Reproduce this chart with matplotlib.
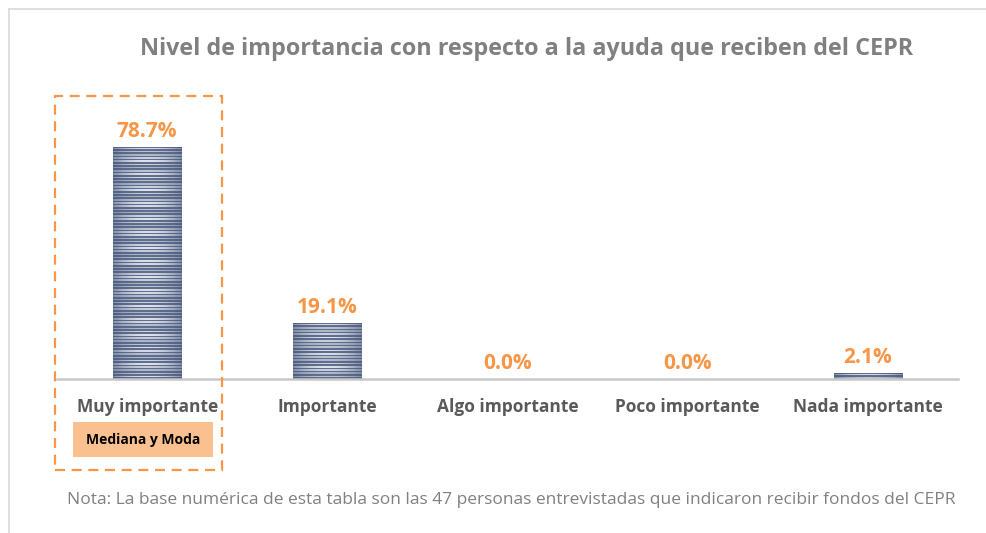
import numpy as np
import matplotlib
matplotlib.use("Agg")
import matplotlib.pyplot as plt
from matplotlib.patches import Rectangle
from matplotlib.lines import Line2D

plt.rcParams["font.family"] = ["Open Sans", "DejaVu Sans"]

categories = ["Muy importante", "Importante", "Algo importante", "Poco importante", "Nada importante"]
percentages = [78.7, 19.1, 0.0, 0.0, 2.1]
title = "Nivel de importancia con respecto a la ayuda que reciben del CEPR"
note = "Nota: La base numérica de esta tabla son las 47 personas entrevistadas que indicaron recibir fondos del CEPR"
badge = "Mediana y Moda"

orange = "#f79646"
gray_text = "#595959"

fig = plt.figure(figsize=(9.87, 5.33), dpi=100)
ax = fig.add_axes([0.0578, 0.2889, 0.9128, 0.5535])

x = np.arange(len(categories))
bars = ax.bar(x, percentages, width=0.38, color="#4b5a7d", zorder=2)

# striped fill, darker at the sides like the original
dark = np.array([0.29, 0.35, 0.49])
light = np.array([0.90, 0.92, 0.95])
for p in bars.patches:
    h = p.get_height()
    if h <= 0:
        continue
    rows = max(2, int(round(h * 2.95 / 1.6)))
    cols = 60
    u = np.linspace(-1, 1, cols)
    center = 1 - u ** 2
    img = np.zeros((rows, cols, 3))
    for r in range(rows):
        if r % 2 == 0:
            mix = 0.05 + 0.1 * center
        else:
            mix = 0.35 + 0.6 * center * (0.75 + 0.25 * np.cos(r * 0.7))
        img[r] = dark + (light - dark) * mix[:, None]
    im = ax.imshow(img, extent=[p.get_x(), p.get_x() + p.get_width(), 0, h],
                   aspect="auto", interpolation="nearest", zorder=3)
    im.set_clip_path(p)

for xi, v in zip(x, percentages):
    ax.annotate(f"{v:.1f}%", (xi, v), xytext=(0, 3.5), textcoords="offset points",
                ha="center", va="bottom", color=orange, fontsize=15, fontweight="bold")

ax.set_xlim(-0.5, len(categories) - 0.5)
ax.set_ylim(0, 100)
ax.set_xticks(x)
ax.set_xticklabels(categories, fontsize=12.5, fontweight="bold", color=gray_text)
ax.tick_params(axis="x", length=0, pad=14)
ax.set_yticks([])
for s in ["top", "right", "left"]:
    ax.spines[s].set_visible(False)
ax.spines["bottom"].set_color("#c8c8c8")
ax.spines["bottom"].set_linewidth(1.8)
ax.spines["bottom"].set_zorder(4)

fig.text(0.534, 0.908, title, ha="center", va="center", fontsize=16.8,
         fontweight="bold", color="#808080")
fig.text(0.518, 0.062, note, ha="center", va="center", fontsize=12.5, color="#808080")

# highlight box around the first category
W, H = 987, 533
fig.add_artist(Rectangle((55 / W, 1 - 470 / H), 167 / W, 374 / H, transform=fig.transFigure,
                         fill=False, edgecolor=orange, linewidth=1.6, linestyle=(0, (4.5, 3))))
fig.add_artist(Rectangle((73 / W, 1 - 457 / H), 140 / W, 35 / H, transform=fig.transFigure,
                         facecolor="#fac090", edgecolor="none"))
fig.text(143 / W, 1 - 440 / H, badge, ha="center", va="center", fontsize=10,
         fontweight="bold", color="black")

# frame lines of the original image
fig.add_artist(Line2D([9 / W, 9 / W], [0, 1 - 9 / H], transform=fig.transFigure,
                      color="#d9d9d9", linewidth=1.2))
fig.add_artist(Line2D([9 / W, 1], [1 - 9 / H, 1 - 9 / H], transform=fig.transFigure,
                      color="#d9d9d9", linewidth=1.2))

fig.savefig("out.png", dpi=100)
